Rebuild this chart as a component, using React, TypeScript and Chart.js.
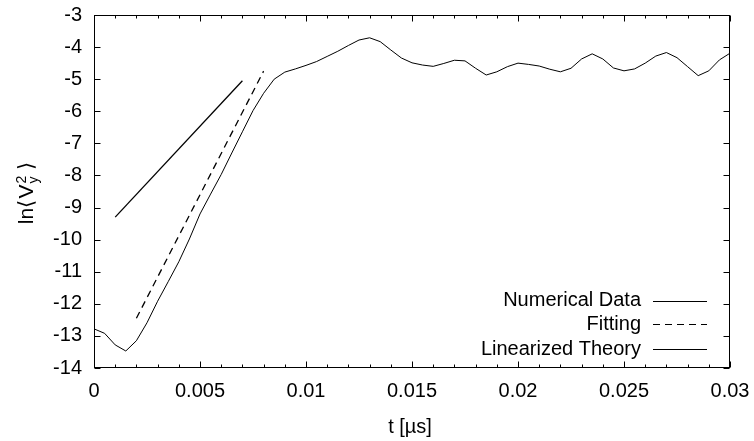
import React, { useEffect, useRef } from "react";
import { Chart, registerables } from "chart.js";

Chart.register(...registerables);

const FONT = '"Liberation Sans", Arial, Helvetica, sans-serif';

// Numerical data: time [µs] and ln<Vy^2>
const timeValues = [
  0, 0.0005, 0.001, 0.0015, 0.002, 0.0025, 0.003, 0.0035, 0.004, 0.0045,
  0.005, 0.0055, 0.006, 0.0065, 0.007, 0.0075, 0.008, 0.0085, 0.009, 0.0095,
  0.01, 0.0105, 0.011, 0.0115, 0.012, 0.0125, 0.013, 0.0135, 0.014, 0.0145,
  0.015, 0.0155, 0.016, 0.0165, 0.017, 0.0175, 0.018, 0.0185, 0.019, 0.0195,
  0.02, 0.0205, 0.021, 0.0215, 0.022, 0.0225, 0.023, 0.0235, 0.024, 0.0245,
  0.025, 0.0255, 0.026, 0.0265, 0.027, 0.0275, 0.028, 0.0285, 0.029, 0.0295,
  0.03,
];
const numericalValues = [
  -12.78, -12.92, -13.28, -13.47, -13.15, -12.59, -11.92, -11.31, -10.69, -9.98,
  -9.2, -8.58, -7.97, -7.3, -6.64, -5.98, -5.44, -5.0, -4.78, -4.68,
  -4.57, -4.45, -4.29, -4.13, -3.95, -3.78, -3.71, -3.83, -4.09, -4.34,
  -4.49, -4.56, -4.6, -4.51, -4.41, -4.43, -4.66, -4.87, -4.77, -4.61,
  -4.5, -4.54, -4.59, -4.69, -4.77, -4.66, -4.37, -4.21, -4.37, -4.65,
  -4.74, -4.68, -4.5, -4.28, -4.17, -4.33, -4.61, -4.89, -4.74, -4.4,
  -4.19,
];

// Fitting line
const fitTimes = [0.002, 0.008];
const fitValues = [-12.45, -4.75];

// Linearized theory line
const theoryTimes = [0.001, 0.007];
const theoryValues = [-9.3, -5.05];

// Ticks
const xTickValues = [0, 0.005, 0.01, 0.015, 0.02, 0.025, 0.03];
const xTickLabels = ["0", "0.005", "0.01", "0.015", "0.02", "0.025", "0.03"];
const xMinorTickValues = [
  0.001, 0.002, 0.003, 0.004, 0.006, 0.007, 0.008, 0.009, 0.011, 0.012, 0.013,
  0.014, 0.016, 0.017, 0.018, 0.019, 0.021, 0.022, 0.023, 0.024, 0.026, 0.027,
  0.028, 0.029,
];
const yTickValues = [-3, -4, -5, -6, -7, -8, -9, -10, -11, -12, -13, -14];

const legendLabels = ["Numerical Data", "Fitting", "Linearized Theory"];
const xTitle = "t [µs]";

const DASH = [7, 5];

const decorPlugin = {
  id: "decor",
  afterDraw(chart: any) {
    const { ctx, chartArea: a, scales } = chart;
    const xs = scales.x;
    const ys = scales.y;
    const L = Math.round(a.left) + 0.5;
    const R = Math.round(a.right) - 0.5;
    const T = Math.round(a.top) + 0.5;
    const B = Math.round(a.bottom) - 0.5;
    ctx.save();
    ctx.strokeStyle = "#000";
    ctx.lineWidth = 1;
    ctx.setLineDash([]);
    ctx.beginPath();
    xTickValues.forEach((v) => {
      const px = Math.round(xs.getPixelForValue(v)) + 0.5;
      ctx.moveTo(px, B);
      ctx.lineTo(px, B - 6);
      ctx.moveTo(px, T);
      ctx.lineTo(px, T + 6);
    });
    xMinorTickValues.forEach((v) => {
      const px = Math.round(xs.getPixelForValue(v)) + 0.5;
      ctx.moveTo(px, B);
      ctx.lineTo(px, B - 3);
      ctx.moveTo(px, T);
      ctx.lineTo(px, T + 3);
    });
    yTickValues.forEach((v) => {
      const py = Math.round(ys.getPixelForValue(v)) + 0.5;
      ctx.moveTo(L, py);
      ctx.lineTo(L + 6, py);
      ctx.moveTo(R, py);
      ctx.lineTo(R - 6, py);
    });
    ctx.stroke();
    ctx.strokeRect(L, T, R - L, B - T);

    // legend
    ctx.font = `20px ${FONT}`;
    ctx.fillStyle = "#000";
    ctx.textAlign = "right";
    ctx.textBaseline = "middle";
    const textX = a.right - 89;
    const lineX0 = a.right - 77;
    const lineX1 = a.right - 23;
    const rowY = [a.bottom - 67.5, a.bottom - 44, a.bottom - 19];
    const dashes = [[], DASH, []];
    legendLabels.forEach((lab, i) => {
      ctx.fillText(lab, textX, rowY[i]);
      ctx.setLineDash(dashes[i]);
      ctx.beginPath();
      const ly = Math.round(rowY[i]) + 0.5;
      ctx.moveTo(lineX0, ly);
      ctx.lineTo(lineX1, ly);
      ctx.stroke();
    });
    ctx.setLineDash([]);

    // x title
    ctx.textAlign = "center";
    ctx.textBaseline = "alphabetic";
    ctx.fillText(xTitle, (a.left + a.right) / 2 - 2, 433);

    // y title: ln⟨ V_y^2 ⟩
    const big = `21px ${FONT}`;
    const small = `14px ${FONT}`;
    const parts = [
      { t: "ln", f: big, dy: 0 },
      { t: "⟨", f: big, dy: 0 },
      { t: "V", f: big, dy: 0 },
      { t: "y", f: small, dy: 4.5 },
      { t: "2", f: small, dy: -7.5 },
      { t: " ⟩", f: big, dy: 0 },
    ];
    const widths = parts.map((p) => {
      ctx.font = p.f;
      return ctx.measureText(p.t).width;
    });
    const scriptW = Math.max(widths[3], widths[4]);
    const total = widths[0] + widths[1] + 1.5 + widths[2] + 1 + scriptW + widths[5];
    ctx.translate(33, 193);
    ctx.rotate(-Math.PI / 2);
    ctx.textAlign = "left";
    let cx = -total / 2;
    for (let i = 0; i < parts.length; i++) {
      const p = parts[i];
      ctx.font = p.f;
      if (i === 3) {
        ctx.fillText(p.t, cx + 1, p.dy);
        continue;
      }
      if (i === 4) {
        ctx.fillText(p.t, cx + 1, p.dy);
        cx += scriptW + 1;
        continue;
      }
      ctx.fillText(p.t, cx, p.dy);
      cx += widths[i];
      if (i === 1) cx += 1.5;
    }
    ctx.restore();
  },
};

export default function App() {
  const ref = useRef<HTMLCanvasElement>(null);
  useEffect(() => {
    if (!ref.current) return;
    const chart = new Chart(ref.current, {
      type: "line",
      data: {
        datasets: [
          {
            label: legendLabels[0],
            data: timeValues.map((t, i) => ({ x: t, y: numericalValues[i] })),
            borderColor: "#000",
            borderWidth: 1,
            pointRadius: 0,
            tension: 0,
            fill: false,
          },
          {
            label: legendLabels[1],
            data: fitTimes.map((t, i) => ({ x: t, y: fitValues[i] })),
            borderColor: "#000",
            borderWidth: 1.3,
            borderDash: DASH,
            pointRadius: 0,
            fill: false,
          },
          {
            label: legendLabels[2],
            data: theoryTimes.map((t, i) => ({ x: t, y: theoryValues[i] })),
            borderColor: "#000",
            borderWidth: 1.3,
            pointRadius: 0,
            fill: false,
          },
        ],
      },
      options: {
        animation: false,
        responsive: false,
        maintainAspectRatio: false,
        layout: { padding: { left: 0, top: 15, right: 24, bottom: 0 } },
        plugins: {
          legend: { display: false },
          tooltip: { enabled: false },
          title: { display: false },
        },
        scales: {
          x: {
            type: "linear",
            min: 0,
            max: 0.03,
            afterFit: (s: any) => {
              s.height = 73;
              s.paddingLeft = 0;
              s.paddingRight = 0;
            },
            afterBuildTicks: (s: any) => {
              s.ticks = xTickValues.map((v) => ({ value: v }));
            },
            ticks: {
              autoSkip: false,
              maxRotation: 0,
              padding: 11,
              color: "#000",
              font: { size: 20, family: FONT },
              callback: (v: any) => {
                const i = xTickValues.findIndex((t) => Math.abs(t - Number(v)) < 1e-9);
                return i >= 0 ? xTickLabels[i] : "";
              },
            },
            grid: { display: false, drawTicks: false },
            border: { display: false },
          },
          y: {
            type: "linear",
            min: -14,
            max: -3,
            afterFit: (s: any) => {
              s.width = 94;
              s.paddingTop = 0;
              s.paddingBottom = 0;
            },
            afterBuildTicks: (s: any) => {
              s.ticks = yTickValues.map((v) => ({ value: v }));
            },
            ticks: {
              autoSkip: false,
              padding: 12,
              color: "#000",
              font: { size: 20, family: FONT },
              callback: (v: any) => String(v),
            },
            grid: { display: false, drawTicks: false },
            border: { display: false },
          },
        },
      },
      plugins: [decorPlugin],
    });
    return () => chart.destroy();
  }, []);
  return (
    <div style={{ position: "absolute", left: 0, top: 0, width: 754, height: 441, background: "#fff" }}>
      <canvas ref={ref} width={754} height={441} style={{ width: 754, height: 441, display: "block" }} />
    </div>
  );
}
